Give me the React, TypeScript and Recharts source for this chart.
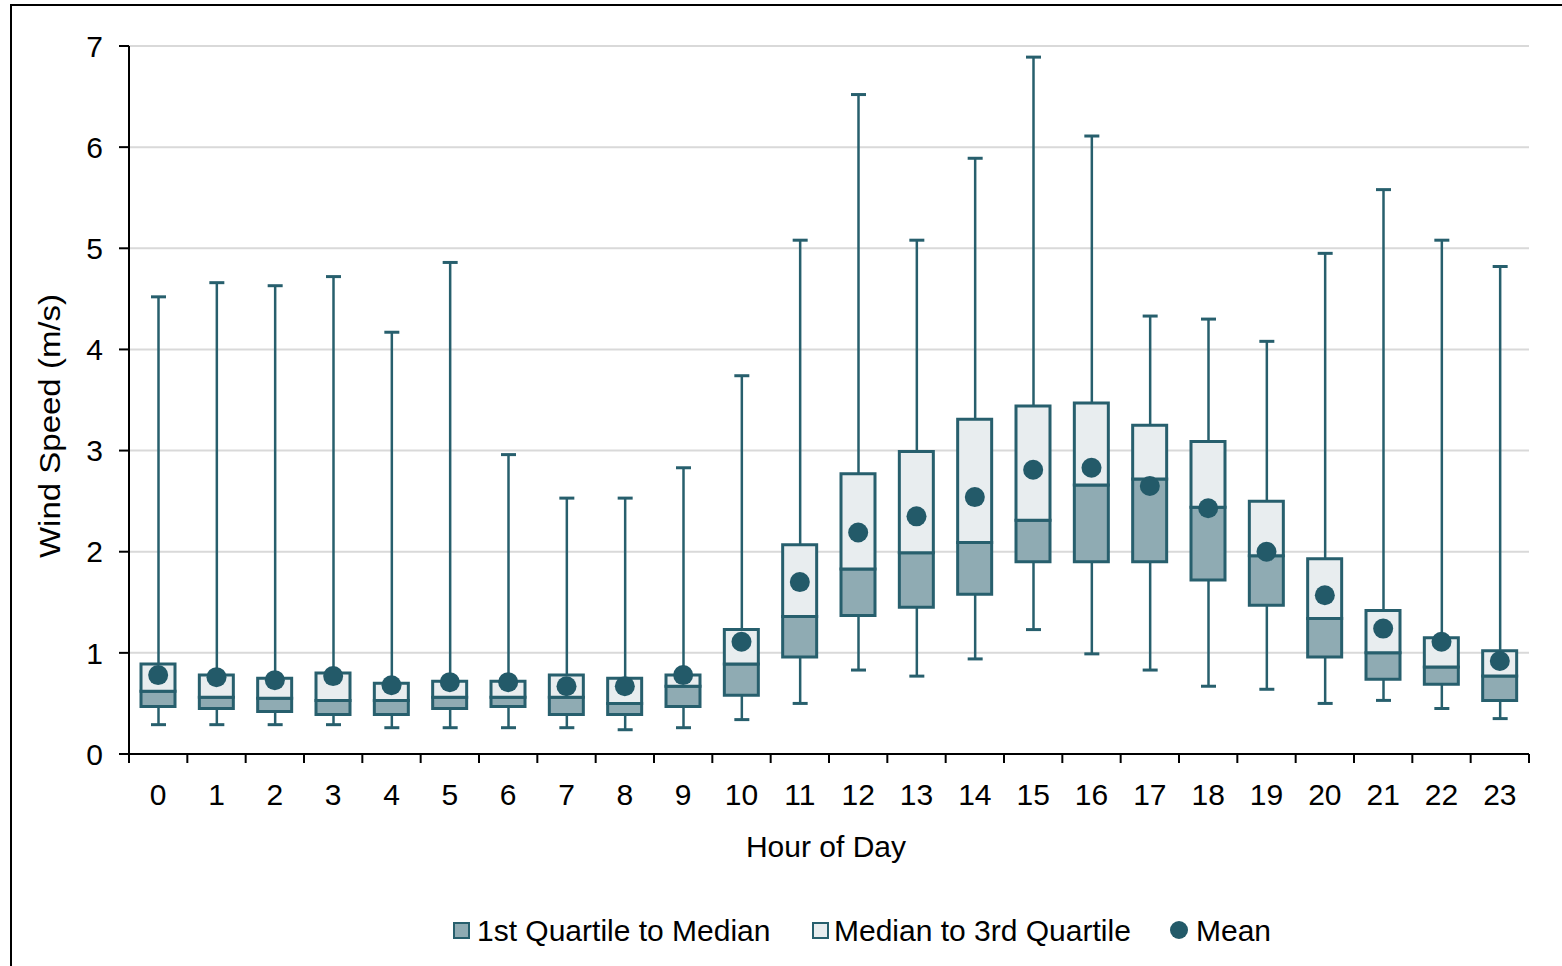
import React from 'react';
import { ComposedChart, Bar, Line, XAxis, YAxis, CartesianGrid } from 'recharts';

const hours = ['0','1','2','3','4','5','6','7','8','9','10','11','12','13','14','15','16','17','18','19','20','21','22','23'];
const whiskerLow = [0.29,0.29,0.29,0.29,0.26,0.26,0.26,0.26,0.24,0.26,0.34,0.50,0.83,0.77,0.94,1.23,0.99,0.83,0.67,0.64,0.50,0.53,0.45,0.35];
const quartile1 = [0.47,0.45,0.42,0.39,0.39,0.45,0.47,0.39,0.39,0.47,0.58,0.96,1.37,1.45,1.58,1.90,1.90,1.90,1.72,1.47,0.96,0.74,0.69,0.53];
const medians = [0.62,0.56,0.55,0.53,0.53,0.56,0.56,0.56,0.50,0.67,0.89,1.36,1.83,1.99,2.09,2.31,2.66,2.72,2.44,1.96,1.34,1.00,0.86,0.77];
const quartile3 = [0.89,0.78,0.75,0.80,0.70,0.72,0.72,0.78,0.75,0.78,1.23,2.07,2.77,2.99,3.31,3.44,3.47,3.25,3.09,2.50,1.93,1.42,1.15,1.02];
const whiskerHigh = [4.52,4.66,4.63,4.72,4.17,4.86,2.96,2.53,2.53,2.83,3.74,5.08,6.52,5.08,5.89,6.89,6.11,4.33,4.30,4.08,4.95,5.58,5.08,4.82];
const means = [0.78,0.76,0.73,0.77,0.68,0.71,0.71,0.67,0.67,0.78,1.11,1.70,2.19,2.35,2.54,2.81,2.83,2.65,2.43,2.00,1.57,1.24,1.11,0.92];
const yTicks = [0,1,2,3,4,5,6,7];

const TEAL = '#235a69';
const BOX_STROKE = '#275f6d';
const DARK_FILL = '#8fabb3';
const LIGHT_FILL = '#e8edef';
const FONT = '"Liberation Sans", Arial, sans-serif';

const data = hours.map((h, i) => ({
  hour: h,
  whisker: [whiskerLow[i], whiskerHigh[i]],
  base: quartile1[i],
  lower: +(medians[i] - quartile1[i]).toFixed(3),
  upper: +(quartile3[i] - medians[i]).toFixed(3),
  mean: means[i],
}));

const Whisker = (props: any) => {
  const { x, y, width, height } = props;
  if (x == null || y == null) return null;
  const top = height >= 0 ? y : y + height;
  const bottom = height >= 0 ? y + height : y;
  const cx = x + width / 2;
  return (
    <g>
      <line x1={cx} x2={cx} y1={top} y2={bottom} stroke={BOX_STROKE} strokeWidth={2.5} />
      <line x1={x} x2={x + width} y1={top} y2={top} stroke={BOX_STROKE} strokeWidth={3} />
      <line x1={x} x2={x + width} y1={bottom} y2={bottom} stroke={BOX_STROKE} strokeWidth={3} />
    </g>
  );
};

const XTick = (props: any) => {
  const { x, y, payload, index, visibleTicksCount } = props;
  const off = payload && payload.offset != null ? payload.offset : 29.17;
  const axisY = y - 9;
  return (
    <g>
      <line x1={x - off} x2={x - off} y1={axisY} y2={axisY + 9} stroke="#000" strokeWidth={2} />
      {index === visibleTicksCount - 1 && (
        <line x1={x + off} x2={x + off} y1={axisY} y2={axisY + 9} stroke="#000" strokeWidth={2} />
      )}
      <text x={x} y={axisY + 51} textAnchor="middle" fontSize={30} fill="#000" fontFamily={FONT}>
        {payload.value}
      </text>
    </g>
  );
};

const legendText: React.CSSProperties = {
  position: 'absolute',
  top: 916,
  fontSize: 30,
  lineHeight: '30px',
  fontFamily: FONT,
  color: '#000',
  whiteSpace: 'nowrap',
};

export default function App() {
  return (
    <div style={{ position: 'absolute', left: 0, top: 0, width: 1562, height: 966, overflow: 'hidden', background: '#fff', fontFamily: FONT }}>
      <div style={{ position: 'absolute', left: 10, top: 4, width: 1700, height: 1100, borderTop: '2px solid #000', borderLeft: '2px solid #000' }} />
      <div style={{ position: 'absolute', left: 0, top: 0 }}>
        <ComposedChart width={1562} height={966} data={data} margin={{ top: 46, right: 33, left: 69, bottom: 152 }}>
          <CartesianGrid xAxisId="main" vertical={false} stroke="#d9d9d9" strokeWidth={2} />
          <XAxis xAxisId="w" dataKey="hour" hide />
          <XAxis
            xAxisId="main"
            dataKey="hour"
            height={60}
            axisLine={{ stroke: '#000', strokeWidth: 2 }}
            tickLine={false}
            tickSize={9}
            tickMargin={0}
            interval={0}
            tick={<XTick />}
          />
          <YAxis
            domain={[0, 7]}
            ticks={yTicks}
            width={60}
            axisLine={{ stroke: '#000', strokeWidth: 2 }}
            tickLine={{ stroke: '#000', strokeWidth: 2 }}
            tickSize={10}
            tickMargin={16}
            tick={{ fontSize: 30, fill: '#000', fontFamily: FONT }}
            allowDataOverflow
          />
          <Bar xAxisId="w" dataKey="whisker" barSize={15} shape={<Whisker />} isAnimationActive={false} />
          <Bar xAxisId="main" dataKey="base" stackId="box" barSize={34} fill="transparent" stroke="none" isAnimationActive={false} />
          <Bar xAxisId="main" dataKey="lower" stackId="box" barSize={34} fill={DARK_FILL} stroke={BOX_STROKE} strokeWidth={3} isAnimationActive={false} />
          <Bar xAxisId="main" dataKey="upper" stackId="box" barSize={34} fill={LIGHT_FILL} stroke={BOX_STROKE} strokeWidth={3} isAnimationActive={false} />
          <Line
            xAxisId="main"
            dataKey="mean"
            stroke="none"
            dot={{ r: 10, fill: TEAL, stroke: 'none', strokeWidth: 0 }}
            activeDot={false}
            isAnimationActive={false}
          />
        </ComposedChart>
      </div>
      <div style={{ position: 'absolute', left: -150, top: 411, width: 400, height: 30, lineHeight: '30px', fontSize: 30, textAlign: 'center', transform: 'rotate(-90deg) scaleX(1.1)', color: '#000', whiteSpace: 'nowrap' }}>
        Wind Speed (m/s)
      </div>
      <div style={{ position: 'absolute', left: 626, top: 832, width: 400, lineHeight: '30px', fontSize: 30, textAlign: 'center', color: '#000', whiteSpace: 'nowrap' }}>
        Hour of Day
      </div>
      <div style={{ position: 'absolute', left: 453, top: 922, width: 13, height: 13, background: DARK_FILL, border: `2px solid ${BOX_STROKE}` }} />
      <div style={{ ...legendText, left: 477 }}>1st Quartile to Median</div>
      <div style={{ position: 'absolute', left: 812, top: 922, width: 13, height: 13, background: LIGHT_FILL, border: `2px solid ${BOX_STROKE}` }} />
      <div style={{ ...legendText, left: 834 }}>Median to 3rd Quartile</div>
      <div style={{ position: 'absolute', left: 1170, top: 921, width: 18, height: 18, borderRadius: '50%', background: TEAL }} />
      <div style={{ ...legendText, left: 1196 }}>Mean</div>
    </div>
  );
}
